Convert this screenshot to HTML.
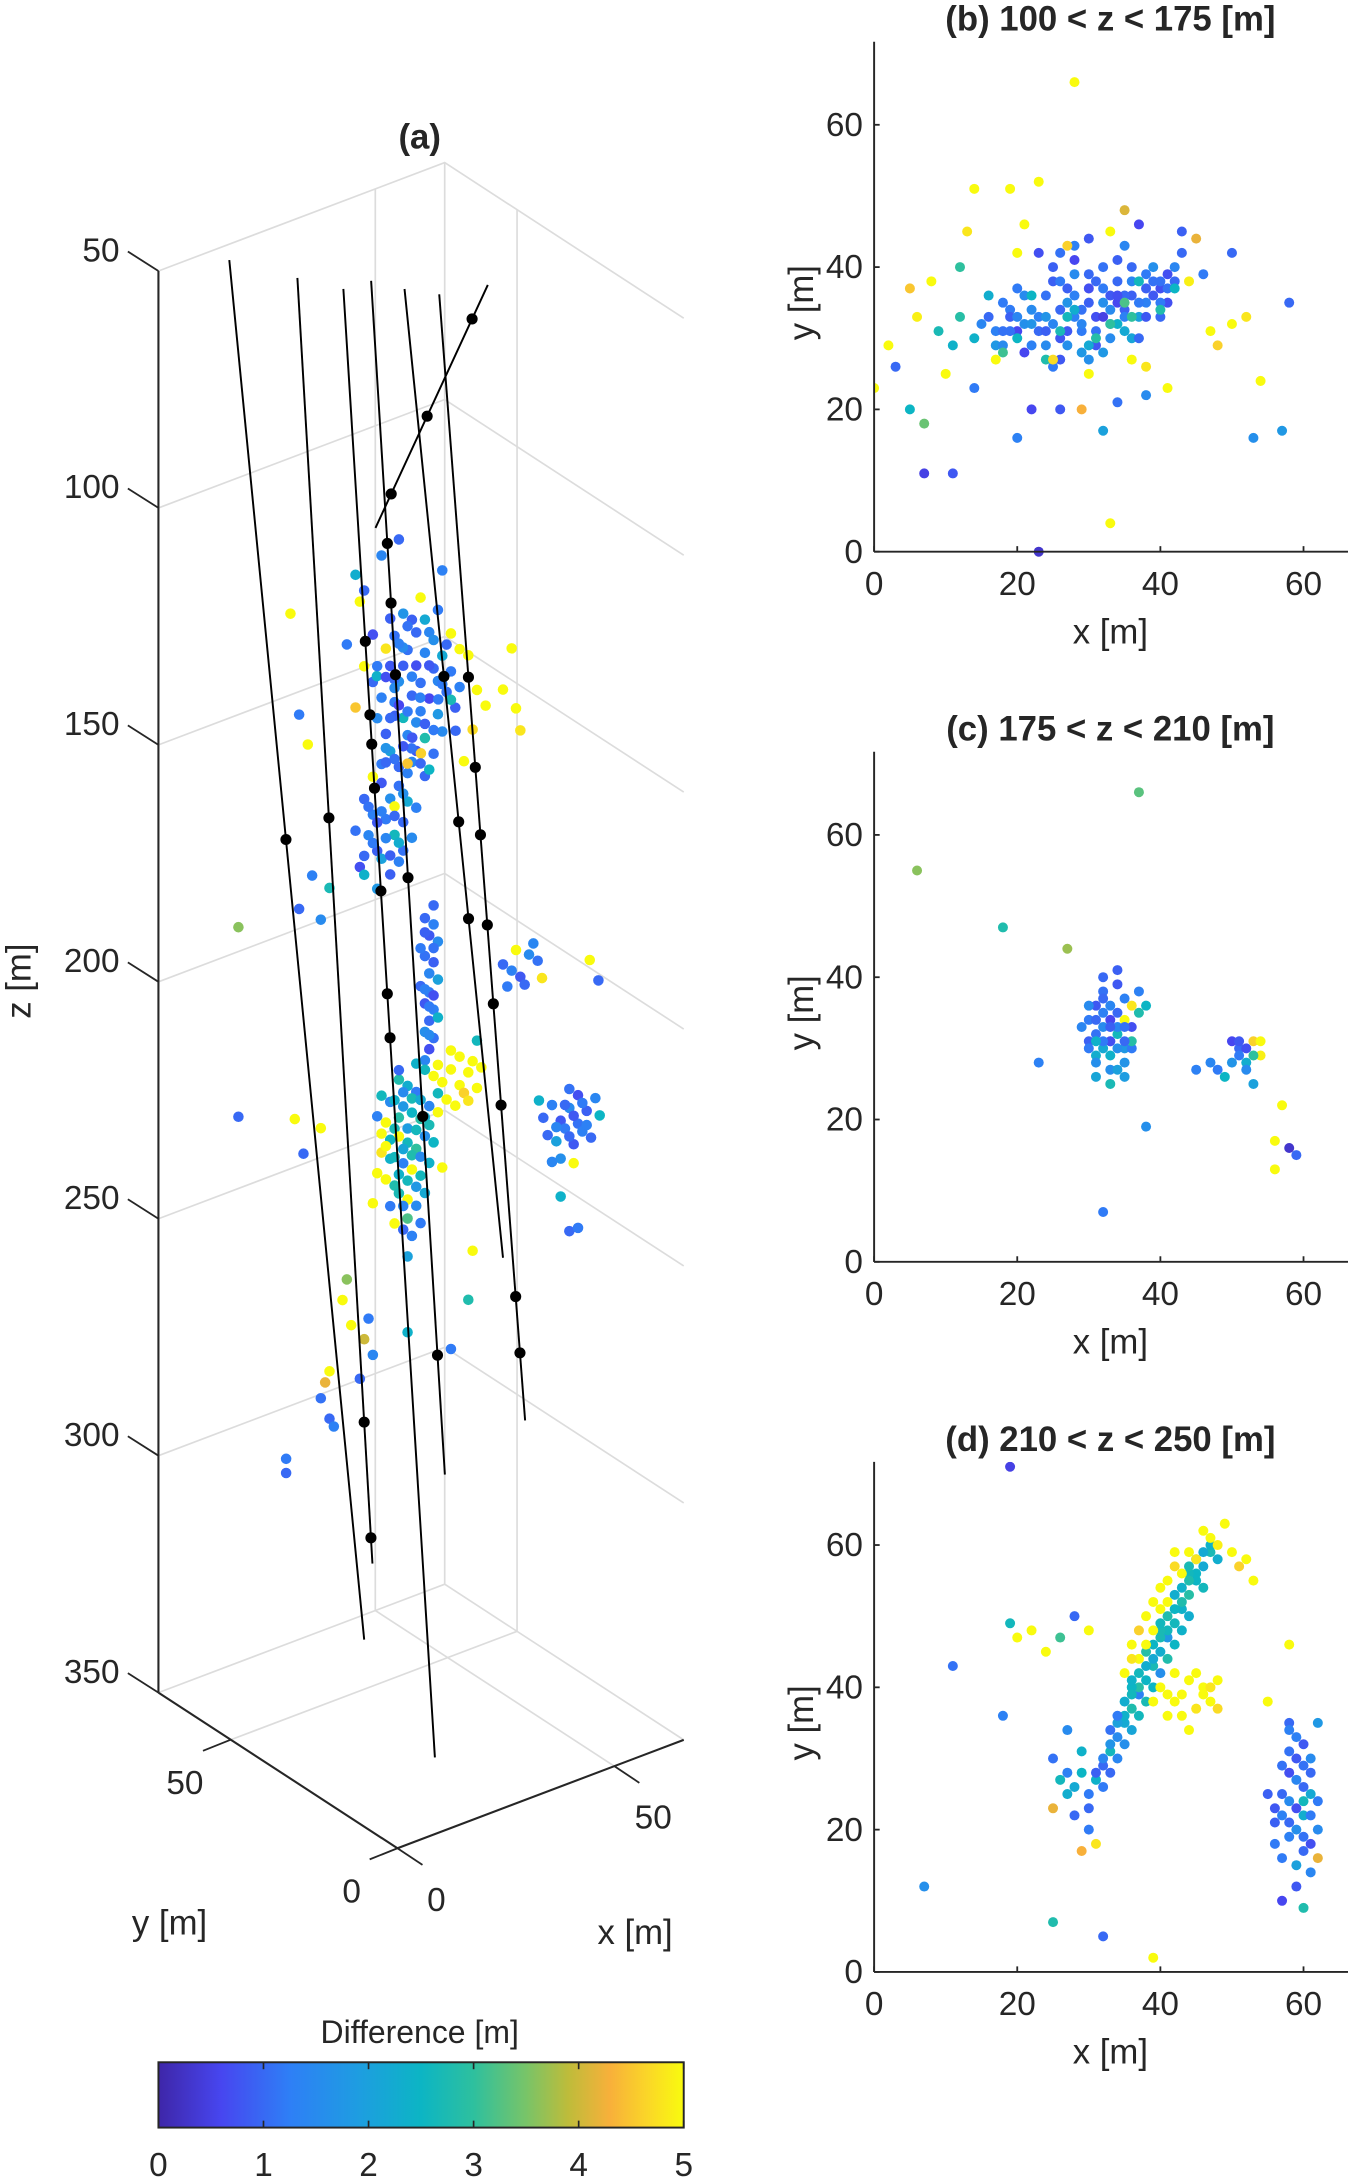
<!DOCTYPE html>
<html><head><meta charset="utf-8"><style>
html,body{margin:0;padding:0;background:#fff;}
svg{display:block;}
text{font-family:"Liberation Sans",Arial,sans-serif;fill:#262626;}
</style></head><body>
<svg id="fig" xmlns="http://www.w3.org/2000/svg" width="1348" height="2179" viewBox="0 0 970 1568">
<g id="panelA"></g>
<g id="panelB"></g>
<g id="panelC"></g>
<g id="panelD"></g>
<g id="cbar"></g>
</svg>
<script>
// ---------- data ----------
const zTicks=[50,100,150,200,250,300,350];
const xyTicks3d=[0,50];
const ticks2d=[0,20,40,60];
const cbTicks=[0,1,2,3,4,5];
const titlesB="(b) 100 < z < 175 [m]", titlesC="(c) 175 < z < 210 [m]", titlesD="(d) 210 < z < 250 [m]";
// wells: [x0,y0,z0,x1,y1,z1]
const wells=[[-11.1,36,27.5,20,36,329.4],[4.6,36,36.7,21.9,36,314],[15.2,36,42.7,36.3,36,359.9],[21.6,36,43.2,38.6,36,301],[29.3,36,47.6,52,36,259.9],[37.3,36,51.5,57.1,36,296],[48.5,36,53.4,22.6,36,95.7]];
const wellDots=[[6,0.14],[6,0.54],[6,0.86],[2,0.24],[2,0.29],[2,0.31],[2,0.34],[2,0.41],[2,0.48],[2,0.51],[5,0.34],[5,0.42],[5,0.48],[5,0.56],[5,0.63],[5,0.72],[5,0.89],[5,0.94],[3,0.22],[3,0.27],[3,0.33],[3,0.5],[3,0.7],[3,0.9],[1,0.42],[1,0.98],[1,0.89],[4,0.4],[4,0.55],[4,0.65],[0,0.42]];
// panel a events [x,y,z,diff]
const eventsA=[
[22,36,128,1.0],[24,36,132,1.3],[26,36,126,0.8],[28,36,130,1.6],[30,36,124,1.1],[32,36,128,0.7],[34,36,126,1.4],[36,36,130,1.0],[38,36,128,2.2],[40,36,132,1.2],
[23,36,136,1.5],[25,36,140,0.9],[27,36,134,1.2],[29,36,138,2.6],[31,36,134,1.0],[33,36,138,1.3],[35,36,136,0.6],[37,36,140,1.8],[39,36,136,1.1],[41,36,140,0.9],
[24,36,146,1.2],[26,36,144,2.0],[28,36,148,1.0],[30,36,142,1.4],[32,36,146,0.8],[34,36,144,2.8],[36,36,148,1.1],[38,36,144,1.5],[30,36,150,1.3],[34,36,152,1.0],
[27,36,120,1.1],[31,36,118,0.9],[35,36,122,1.4],[29,36,116,1.7],[33,36,114,5],[25,36,122,4.8],[37,36,118,1.2],[22,36,118,0.7],[40,36,124,5],[42,36,128,5],
[30,40,132,1.0],[34,32,134,1.2],[28,32,140,0.8],[36,40,138,1.3],[26,40,130,2.4],[38,32,142,1.0],[32,40,126,1.5],[30,32,144,4.6],[34,40,148,1.1],[24,32,134,0.9],
[44,36,130,5],[46,36,138,5],[45,36,146,4.7],[43,36,152,5],[48,36,142,5],[20,36,124,5],[18,36,132,4.5],[16,36,118,1.2],[19,36,110,5],[38,36,110,1.3],
[52,36,140,5],[55,36,145,5],[54,36,132,5],[56,36,150,4.8],[3,36,107,5],[5,36,129,1.2],[7,36,136,5],[18,36,104,2.3],[20,36,108,1.0],[24,36,102,1.4],[28,36,100,1.0],
[23,36,125,1.2],[25,36,128,0.7],[27,36,131,1.5],[29,36,127,0.9],[31,36,130,1.3],[33,36,132,1.1],[35,36,129,0.8],[37,36,133,1.4],[26,36,137,1.0],[28,36,135,0.6],
[30,36,137,1.2],[32,36,140,1.5],[34,36,141,0.9],[36,36,143,1.2],[25,36,143,1.7],[27,36,146,1.1],[29,36,144,0.8],[31,36,148,1.4],[33,36,149,1.0],[35,36,151,2.5],
[28,36,122,1.3],[32,36,121,1.0],[34,36,119,2.2],[30,36,119,1.1],[26,36,116,0.9],[36,36,124,1.6],[39,36,126,1.0],[38,36,134,1.2],[40,36,138,2.7],[42,36,136,1.3],
[20,36,152,1.0],[22,36,156,1.3],[24,36,150,0.8],[26,36,154,1.6],[28,36,152,1.1],[30,36,156,2.2],[21,36,160,1.4],[23,36,164,0.9],[25,36,158,1.2],[27,36,162,2.6],
[29,36,160,1.0],[31,36,164,1.5],[19,36,166,0.7],[24,36,166,2.0],[28,36,168,1.3],[26,36,170,0.9],[22,36,148,5],[30,36,148,4.5],[18,36,158,1.1],[32,36,158,1.3],
[20,36,168,2.4],[25,36,146,1.0],[27,36,156,5],[23,36,172,1.8],[29,36,166,1.1],[8,36,164,1.3],[5,36,170,1.0],[10,36,174,1.5],[12,36,168,2.7],[-9,36,169,3.6],[-9,36,209,1.0],
[21,36,154,1.1],[23,36,158,0.8],[25,36,162,1.4],[27,36,158,1.0],[29,36,154,1.6],[22,36,162,1.2],[26,36,166,0.9],[24,36,156,1.3],[28,36,164,2.3],[20,36,164,1.0],
[34,36,182,1.0],[36,36,184,1.3],[35,36,186,0.8],[37,36,188,1.5],[34,36,190,1.1],[36,36,192,0.9],[35,36,194,1.4],[33,36,196,1.0],[37,36,196,2.0],[35,36,198,1.2],
[34,36,200,0.8],[36,36,202,1.3],[35,36,204,1.0],[34,36,206,1.6],[36,36,208,1.1],[35,36,210,0.7],[33,36,188,1.2],[37,36,204,2.4],[36,36,180,1.0],[34,36,212,1.4],
[34,36,185,0.9],[36,36,189,1.1],[34,36,197,1.3],[36,36,199,0.7],[35,36,201,1.2],[35,36,207,1.5],
[52,36,198,1.0],[54,36,200,1.3],[56,36,202,0.8],[58,36,198,1.5],[60,36,200,1.1],[55,36,196,5],[57,36,204,1.0],[61,36,204,4.8],[53,36,203,1.2],[59,36,196,1.4],[74,36,209,1.0],[72,36,204,5],
[24,36,216,2.6],[26,36,218,1.5],[28,36,214,2.8],[30,36,216,2.3],[32,36,218,1.2],[34,36,214,2.6],[36,36,216,5],[25,36,222,5],[27,36,224,2.7],[29,36,220,1.8],
[31,36,222,2.5],[33,36,224,2.9],[35,36,222,1.4],[37,36,224,5],[24,36,228,4.8],[26,36,230,2.4],[28,36,226,5],[30,36,228,2.6],[32,36,230,3.0],[34,36,228,1.6],
[36,36,230,2.5],[25,36,234,5],[27,36,236,2.8],[29,36,232,1.3],[31,36,234,5],[33,36,236,2.6],[35,36,234,2.4],[26,36,240,1.2],[28,36,238,2.7],[30,36,240,5],
[32,36,242,1.5],[34,36,240,2.2],[29,36,246,1.0],[31,36,248,1.3],[30,36,252,2.0],[23,36,232,5],[22,36,238,5],[38,36,236,5],[37,36,220,2.6],[23,36,220,1.3],
[28,36,212,1.0],[32,36,212,2.4],[30,36,244,3.2],[33,36,246,1.2],[27,36,244,5],[6,36,222,1.0],[4,36,214,5],[10,36,218,5],
[27,36,218,2.4],[29,36,217,1.5],[31,36,219,2.7],[33,36,220,2.2],[26,36,226,2.5],[28,36,222,2.9],[30,36,225,1.9],[32,36,226,2.6],[34,36,224,2.3],[27,36,230,2.6],
[29,36,229,2.1],[31,36,231,2.8],[33,36,232,1.5],[28,36,234,2.4],[30,36,236,2.6],[32,36,238,1.8],[25,36,227,5],[24,36,224,5],[35,36,226,2.7],[29,36,241,1.4],
[38,36,218,5],[40,36,216,5],[42,36,220,5],[44,36,218,5],[46,36,222,5],[39,36,222,5],[41,36,224,5],[43,36,222,4.6],[45,36,216,5],[37,36,214,5],[40,36,212,5],[44,36,224,4.8],[47,36,218,5],[42,36,214,5],[46,36,212,2.6],
[49,20,222,1.0],[51,20,220,1.3],[53,20,224,0.8],[55,20,222,1.5],[57,20,226,1.1],[59,20,224,0.9],[61,20,222,1.4],[50,20,226,1.0],[52,20,228,2.0],[54,20,226,1.2],
[56,20,230,0.8],[58,20,228,1.3],[60,20,230,1.0],[53,20,232,1.6],[55,20,218,1.1],[57,20,220,0.7],[62,20,226,2.5],[51,20,232,1.4],[56,20,234,5],[48,20,218,2.4],[53,20,240,2.4],[55,20,248,1.0],[57,20,248,1.2],
[54,20,221,1.0],[56,20,224,0.8],[58,20,222,1.2],[52,20,225,1.4],[55,20,228,1.0],[59,20,227,1.3],
[20,36,266,4.0],[21,36,262,1.2],[22,36,270,1.4],[19,36,274,1.0],[17,36,262,5],[12,36,280,1.0],[13,36,282,1.3],[2,36,285,1.2],[2,36,288,1.0],[15,36,256,5],[16,36,252,3.6],[30,36,268,2.4],[44,36,266,2.8],[45,36,256,5],[40,36,275,1.2],[12,36,270,5],[10,36,275,1.1],[11,36,272,4.2]
];
// panel b [x,y,diff]
const eventsB=[
[16,33,1.0],[18,35,1.2],[20,31,0.6],[22,34,1.5],[24,36,1.1],[26,30,0.8],[28,33,1.3],[30,37,0.7],[32,35,1.6],[34,38,1.0],
[36,36,0.9],[38,39,1.2],[40,37,0.7],[42,40,1.4],[17,29,1.8],[19,31,1.1],[21,28,0.6],[23,33,1.3],[25,38,0.9],[27,35,1.7],
[29,31,1.2],[31,29,0.8],[33,34,1.5],[35,36,1.0],[37,33,2.0],[39,38,1.1],[41,35,0.7],[15,32,1.4],[20,37,1.2],[25,40,0.9],
[30,27,1.6],[35,31,2.2],[40,33,1.0],[22,29,1.3],[26,27,0.8],[28,41,0.6],[32,40,1.1],[34,32,2.4],[38,35,1.3],[24,33,1.7],
[27,37,0.9],[29,32,1.4],[31,38,1.0],[33,36,0.8],[36,30,2.1],[21,36,1.5],[23,42,0.7],[19,34,1.2],[37,30,1.0],[39,40,1.6],
[30,44,0.8],[28,43,1.3],[26,42,1.1],[34,41,0.9],[32,28,1.8],[25,26,1.2],[41,39,0.7],[43,42,1.0],[35,43,1.4],[18,29,1.5],
[17,31,1.3],[19,33,0.9],[21,32,1.6],[23,31,1.0],[25,32,1.4],[27,31,0.8],[29,34,1.1],[31,33,0.7],[33,32,1.3],[35,34,0.9],
[37,35,1.2],[39,36,0.8],[41,37,1.1],[24,29,1.5],[26,34,1.0],[28,36,1.3],[30,35,0.9],[32,37,1.2],[34,35,0.6],[36,38,1.4],
[38,37,0.9],[40,38,1.1],[22,32,1.7],[26,38,1.2],[30,39,1.0],[27,29,1.6],[31,31,1.1],[35,33,1.3],[38,33,0.8],[42,38,1.0],
[33,30,1.5],[29,28,1.8],[24,31,0.9],[20,33,1.4],[18,31,1.1],[36,40,1.0],[28,39,1.5],[32,33,0.5],[34,36,0.7],[40,35,1.2],
[20,30,2.5],[24,27,2.8],[28,34,2.3],[33,32,3.0],[37,38,2.6],[14,30,2.4],[12,33,2.9],[18,28,3.1],[30,29,2.2],[26,31,2.7],
[22,36,2.5],[35,35,3.2],[40,34,2.8],[16,36,2.3],[27,33,2.6],[31,30,2.9],[11,29,2.4],[9,31,2.7],[36,33,3.0],[42,37,2.5],[7,18,3.4],
[14,51,5],[19,51,5],[23,52,5],[13,45,4.8],[8,38,5],[5,37,4.5],[2,29,5],[0,23,5],[47,31,5],[50,32,5],
[52,33,4.8],[54,24,5],[48,29,4.6],[45,44,4.2],[44,38,4.9],[10,25,5],[17,27,5],[25,27,4.7],[30,25,5],[36,27,5],
[38,26,4.8],[41,23,5],[20,42,5],[27,43,4.6],[33,45,5],[6,33,4.9],[33,4,5],[35,48,4.1],[21,46,5],[29,20,4.3],[28,66,5],
[3,26,1.0],[5,20,2.5],[7,11,0.5],[11,11,0.8],[14,23,1.2],[20,16,1.3],[22,20,0.6],[26,20,0.8],[32,17,2.0],[34,21,1.1],
[38,22,1.5],[43,45,0.9],[46,39,1.2],[50,42,1.0],[53,16,1.6],[57,17,1.8],[58,35,1.0],[23,0,0.3],[37,46,0.6],[12,40,3.0]
];
// panel c
const eventsC=[
[30,34,1.2],[31,36,0.8],[32,33,1.5],[33,31,2.0],[34,35,1.0],[35,30,1.8],[36,33,0.7],[31,29,2.3],[32,38,1.1],[33,27,1.6],
[34,32,2.6],[35,37,1.3],[30,31,0.9],[29,33,1.4],[31,26,2.1],[33,34,0.6],[35,28,1.7],[37,35,2.8],[32,40,1.0],[34,39,0.8],
[36,30,1.2],[30,36,1.5],[33,29,2.4],[35,26,1.9],[31,32,1.1],[34,41,0.9],[32,30,2.2],[36,36,4.8],[33,25,2.7],[38,36,2.5],
[34,33,1.4],[31,28,1.6],[35,34,5],[37,38,1.3],[32,37,1.0],[33,31,0.7],[36,31,2.9],[30,30,1.2],[34,27,2.0],[35,33,1.1],
[31,34,1.0],[32,35,1.3],[33,33,0.9],[34,30,1.6],[32,31,1.2],[33,36,1.4],[31,31,2.4],[35,31,1.0],
[45,27,1.3],[48,27,1.2],[50,31,0.6],[51,30,1.0],[52,28,2.3],[53,31,4.6],[54,29,4.9],[49,26,2.5],[52,27,1.5],[53,29,3.0],
[51,31,0.8],[50,28,1.7],[47,28,1.4],[54,31,5],[53,25,2.0],[51,29,1.2],[52,30,0.7],
[6,55,3.6],[18,47,2.8],[27,44,3.7],[37,66,3.3],[23,28,1.3],[38,19,1.6],[32,7,1.2],[57,22,5],[56,17,5],[56,13,5],[58,16,0.3],[59,15,1.0]
];
// panel d
const eventsD=[
[30,25,1.2],[31,27,2.4],[32,29,1.0],[33,31,2.6],[34,33,1.5],[35,35,2.2],[36,37,2.8],[37,39,1.3],[38,41,2.5],[39,43,2.7],
[40,45,2.3],[41,47,1.8],[42,49,2.6],[43,51,2.4],[44,53,2.9],[45,55,2.5],[46,57,2.2],[47,59,2.7],[33,34,1.1],[35,38,2.3],
[37,42,2.6],[39,46,2.5],[41,50,2.8],[43,54,2.4],[45,58,2.6],[34,30,1.4],[36,34,2.1],[38,38,2.7],[40,42,1.6],[42,46,2.5],
[44,50,2.3],[46,54,2.6],[31,28,0.9],[33,32,1.7],[35,36,2.4],[37,40,2.9],[39,44,2.2],[41,48,2.6],[43,52,2.8],[45,56,2.5],
[47,60,2.4],[32,26,1.2],[36,40,2.5],[40,48,2.7],[44,56,2.6],[48,58,2.3],
[32,30,1.4],[34,35,2.0],[36,39,2.6],[38,43,2.3],[40,47,2.7],[42,51,2.5],[44,55,2.8],[46,59,2.2],[34,36,1.2],[36,41,2.4],
[38,45,2.9],[40,49,2.6],[42,53,2.3],[44,57,2.7],[33,28,1.0],[35,32,1.6],[37,36,2.6],[39,40,2.5],[41,44,2.8],[43,48,2.4],
[37,44,5],[39,48,5],[41,52,5],[43,56,5],[45,58,4.8],[47,61,5],[38,50,5],[40,54,5],[42,57,4.7],[44,59,5],
[46,62,5],[49,63,5],[36,46,5],[40,51,5],[48,60,4.9],[50,59,5],[52,58,5],[53,55,5],[51,57,4.6],[35,42,5],
[38,46,5],[36,44,4.8],[39,52,5],[41,55,5],[37,48,4.6],[42,59,5],
[40,40,5],[42,38,5],[44,41,5],[46,39,5],[48,41,5],[43,36,5],[45,37,4.8],[47,38,5],[41,36,5],[44,34,5],
[46,40,5],[42,42,5],[48,37,4.7],[39,38,5],[43,39,5],[45,42,5],[47,40,4.8],[41,39,5],
[26,27,2.6],[27,25,2.3],[28,22,1.0],[29,28,2.5],[30,20,1.2],[25,23,4.2],[25,30,1.1],[31,18,4.8],[29,17,4.3],[25,7,2.8],
[32,5,1.0],[39,2,5],[7,12,1.6],[11,43,1.1],[18,36,1.3],[19,49,2.6],[22,48,5],[20,47,5],[24,45,5],[26,47,3.1],
[28,50,1.0],[30,48,5],[19,71,0.5],[27,34,1.5],[29,31,2.4],[28,26,2.2],[27,28,1.3],[30,23,1.0],
[58,35,1.0],[59,33,1.3],[60,32,0.8],[61,30,1.5],[57,29,1.1],[58,28,0.7],[59,27,1.4],[60,26,1.0],[61,25,2.2],[62,24,1.2],
[56,23,0.8],[57,22,1.3],[58,21,1.0],[59,20,1.6],[60,19,1.1],[61,18,0.7],[57,16,1.2],[59,15,2.0],[60,17,1.0],[61,14,1.4],
[55,25,0.9],[58,31,1.1],[60,22,2.3],[62,20,1.5],[59,12,0.8],[57,10,0.6],[61,28,1.0],[60,24,2.6],[58,34,1.3],[56,18,1.2],
[57,25,1.0],[59,23,0.7],[58,19,1.3],[60,29,1.1],[56,21,0.9],[61,22,1.2],[59,30,0.8],[58,24,1.5],
[62,16,4.2],[58,46,5],[55,38,5],[60,9,2.8],[62,35,1.8]
];
// parula colormap anchors
const cmapStops=[[0,[62,38,168]],[0.12,[71,70,240]],[0.25,[46,127,246]],[0.38,[30,157,225]],[0.5,[12,181,196]],[0.6,[46,192,158]],[0.7,[120,196,104]],[0.78,[190,188,58]],[0.86,[248,176,58]],[0.93,[250,214,40]],[1,[249,251,14]]];

// ---------- helpers ----------
const NS="http://www.w3.org/2000/svg";
function mk(parent,tag,attrs){const e=document.createElementNS(NS,tag);for(const k in attrs)e.setAttribute(k,attrs[k]);parent.appendChild(e);return e;}
function color(d){let t=Math.max(0,Math.min(1,d/5));for(let i=1;i<cmapStops.length;i++){const a=cmapStops[i-1],b=cmapStops[i];if(t<=b[0]){const f=(t-a[0])/(b[0]-a[0]);const c=a[1].map((v,j)=>Math.round(v+(b[1][j]-v)*f));return `rgb(${c[0]},${c[1]},${c[2]})`;}}return 'rgb(249,251,14)';}
const AX='#262626', GR='#dcdcdc';

// ---------- panel a ----------
const XM=66, YM=71.7;
function proj(x,y,z){return [286+x*206/XM-y*172/YM, 1330-x*78/XM-y*112/YM-(350-z)*3.41];}
const A=document.getElementById('panelA');
zTicks.forEach(z=>{const p=[proj(0,YM,z),proj(XM,YM,z),proj(XM,0,z)];
 const g=mk(A,'polyline',{points:p.map(q=>q.join(',')).join(' '),fill:'none',stroke:GR,'stroke-width':1.2});
 
 });
[[50,0,50,YM],[0,50,XM,50]].forEach(s=>{const a=proj(s[0],s[1],350),b=proj(s[2],s[3],350);
 const l=mk(A,'line',{x1:a[0],y1:a[1],x2:b[0],y2:b[1],stroke:GR,'stroke-width':1.2});
 
 });
[[50,YM],[XM,YM],[XM,50]].forEach(s=>{const a=proj(s[0],s[1],50),b=proj(s[0],s[1],350);
 const l=mk(A,'line',{x1:a[0],y1:a[1],x2:b[0],y2:b[1],stroke:GR,'stroke-width':1.2});
 
 });
[[proj(0,YM,50),proj(0,YM,350)],[proj(0,YM,350),proj(0,0,350)],[proj(0,0,350),proj(XM,0,350)]].forEach(s=>{
 const l=mk(A,'line',{x1:s[0][0],y1:s[0][1],x2:s[1][0],y2:s[1][1],stroke:AX,'stroke-width':1.5});
 
 });
zTicks.forEach(z=>{const p=proj(0,YM,z);
 mk(A,'line',{x1:p[0],y1:p[1],x2:p[0]-22,y2:p[1]-14,stroke:AX,'stroke-width':1.3});
 const t=mk(A,'text',{x:p[0]-28,y:p[1]-7,'text-anchor':'end','font-size':24});t.textContent=z;
 
 });
xyTicks3d.forEach(v=>{const p=proj(0,v,350);
 mk(A,'line',{x1:p[0],y1:p[1],x2:p[0]-20,y2:p[1]+8,stroke:AX,'stroke-width':1.3});
 const t=mk(A,'text',{x:p[0]-33,y:p[1]+39,'text-anchor':'middle','font-size':24});t.textContent=v;
 
 
 const q=proj(v,0,350);
 mk(A,'line',{x1:q[0],y1:q[1],x2:q[0]+18,y2:q[1]+12,stroke:AX,'stroke-width':1.3});
 const u=mk(A,'text',{x:q[0]+28,y:q[1]+45,'text-anchor':'middle','font-size':24});u.textContent=v;
 
 });
eventsA.forEach(e=>{const p=proj(e[0],e[1],e[2]);
 const c=mk(A,'circle',{cx:p[0],cy:p[1],r:3.8,fill:color(e[3])});
 
 });
wells.forEach(w=>{const a=proj(w[0],w[1],w[2]),b=proj(w[3],w[4],w[5]);
 const l=mk(A,'line',{x1:a[0],y1:a[1],x2:b[0],y2:b[1],stroke:'#000','stroke-width':1.4});
 
 });
wellDots.forEach(d=>{const w=wells[d[0]],t=d[1];
 const p=proj(w[0]+(w[3]-w[0])*t,w[1]+(w[4]-w[1])*t,w[2]+(w[5]-w[2])*t);
 const c=mk(A,'circle',{cx:p[0],cy:p[1],r:4,fill:'#000'});
 
 });
{let t=mk(A,'text',{x:302,y:107,'text-anchor':'middle','font-size':25,'font-weight':'bold'});t.textContent='(a)';
 
 
 t=mk(A,'text',{x:0,y:0,'text-anchor':'middle','font-size':25,transform:'translate(22,706) rotate(-90)'});t.textContent='z [m]';
 
 
 t=mk(A,'text',{x:122,y:1392,'text-anchor':'middle','font-size':25});t.textContent='y [m]';
 
 
 t=mk(A,'text',{x:457,y:1399,'text-anchor':'middle','font-size':25});t.textContent='x [m]';
 
 }

// ---------- 2D panels ----------
function panel2d(id,events,title,y0){
 const G=document.getElementById(id);
 const L=629,R=970,B=y0,T=y0-367;
 const sx=v=>L+v*5.15, sy=v=>B-v*5.12;
 const cid=id+'clip';
 const cp=mk(mk(G,'defs',{}),'clipPath',{id:cid});mk(cp,'rect',{x:L,y:T,width:R-L,height:B-T+4});
 const pg=mk(G,'g',{'clip-path':`url(#${cid})`});
 events.forEach(e=>{const c=mk(pg,'circle',{cx:sx(e[0]),cy:sy(e[1]),r:3.6,fill:color(e[2])});
  
  });
 mk(G,'line',{x1:L,y1:T,x2:L,y2:B,stroke:AX,'stroke-width':1.4});
 mk(G,'line',{x1:L,y1:B,x2:R,y2:B,stroke:AX,'stroke-width':1.4});
 ticks2d.forEach(v=>{
  mk(G,'line',{x1:sx(v),y1:B,x2:sx(v),y2:B-4,stroke:AX,'stroke-width':1.3});
  mk(G,'line',{x1:L,y1:sy(v),x2:L+4,y2:sy(v),stroke:AX,'stroke-width':1.3});
  const a=mk(G,'text',{x:sx(v),y:B+31,'text-anchor':'middle','font-size':24});a.textContent=v;
  
  
  const b=mk(G,'text',{x:L-8,y:sy(v)+8,'text-anchor':'end','font-size':24});b.textContent=v;
  
  });
 let t=mk(G,'text',{x:799,y:B+66,'text-anchor':'middle','font-size':25});t.textContent='x [m]';
 
 
 t=mk(G,'text',{x:0,y:0,'text-anchor':'middle','font-size':25,transform:`translate(585,${sy(35)}) rotate(-90)`});t.textContent='y [m]';
 
 
 t=mk(G,'text',{x:799,y:T-8,'text-anchor':'middle','font-size':25,'font-weight':'bold'});t.textContent=title;
 
 
}
panel2d('panelB',eventsB,titlesB,397);
panel2d('panelC',eventsC,titlesC,908);
panel2d('panelD',eventsD,titlesD,1419);

// ---------- colorbar ----------
const C=document.getElementById('cbar');
const grad=mk(mk(C,'defs',{}),'linearGradient',{id:'parula',x1:0,x2:1,y1:0,y2:0});
cmapStops.forEach(s=>mk(grad,'stop',{offset:s[0],'stop-color':color(s[0]*5)}));
mk(C,'rect',{x:114,y:1484,width:378,height:47,fill:'url(#parula)',stroke:AX,'stroke-width':1.4});
cbTicks.forEach(v=>{const x=114+v*378/5;
 mk(C,'line',{x1:x,y1:1531,x2:x,y2:1526,stroke:AX,'stroke-width':1.2});
 mk(C,'line',{x1:x,y1:1484,x2:x,y2:1489,stroke:AX,'stroke-width':1.2});
 const t=mk(C,'text',{x:x,y:1566,'text-anchor':'middle','font-size':24});t.textContent=v;
 
 });
{const t=mk(C,'text',{x:302,y:1470,'text-anchor':'middle','font-size':23});t.textContent='Difference [m]';
 
 }
</script>
</body></html>
